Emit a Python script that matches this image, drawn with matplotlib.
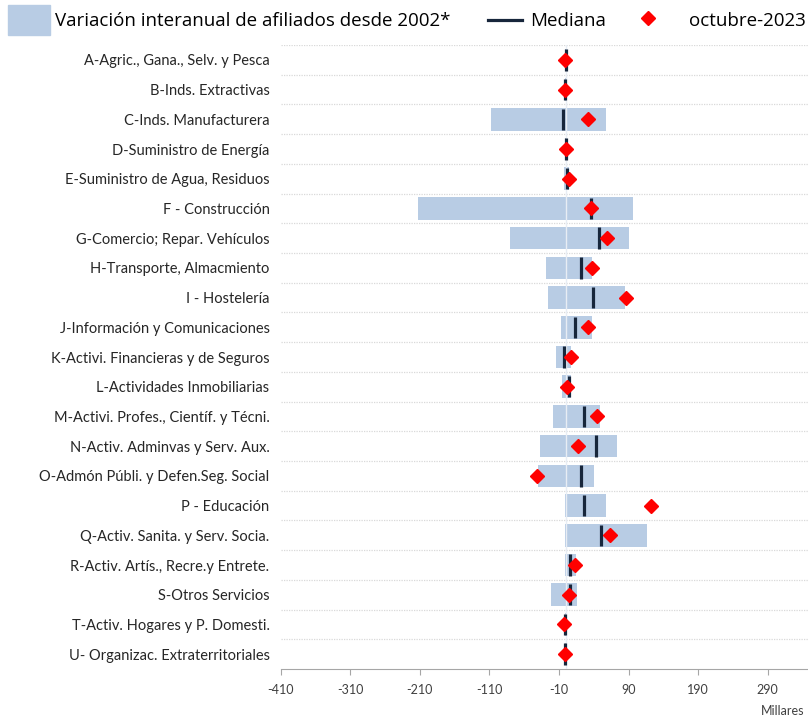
import numpy as np
import matplotlib
matplotlib.use('Agg')
from matplotlib import pyplot as plt
from matplotlib.patches import Rectangle
from matplotlib.lines import Line2D

# ramas de actividad
ramas = ["A-Agric., Gana., Selv. y Pesca",
         "B-Inds. Extractivas",
         "C-Inds. Manufacturera",
         "D-Suministro de Energía",
         "E-Suministro de Agua, Residuos",
         "F - Construcción",
         "G-Comercio; Repar. Vehículos",
         "H-Transporte, Almacmiento",
         "I - Hostelería",
         "J-Información y Comunicaciones",
         "K-Activi. Financieras y de Seguros",
         "L-Actividades Inmobiliarias",
         "M-Activi. Profes., Científ. y Técni.",
         "N-Activ. Adminvas y Serv. Aux.",
         "O-Admón Públi. y Defen.Seg. Social",
         "P - Educación",
         "Q-Activ. Sanita. y Serv. Socia.",
         "R-Activ. Artís., Recre.y Entrete.",
         "S-Otros Servicios",
         "T-Activ. Hogares y P. Domesti.",
         "U- Organizac. Extraterritoriales"]

# variacion interanual desde 2002 (miles): minimo y maximo
minimo = [-2, -2, -107, -2, -3, -212, -80, -29, -26, -7, -14, -6,
          -19, -37, -40, -1, -1, -1, -22, -2, -1.5]
maximo = [1.5, 1, 58, 1, 5, 97, 90, 37, 85, 38, 8, 7,
          49, 73, 41, 57, 117, 14, 16, 0, 0.5]
mediana = [0, -1, -4, -0.5, 2, 36, 48, 22, 39, 13, -2.5, 4,
           26, 43, 22, 26, 50, 6, 6, -1, -1]
oct2023 = [-1, -1, 32, 0, 4, 36, 59, 38, 86, 32, 7.5, 2,
           45, 18, -42, 123, 64, 13, 5, -2.5, -1]

xticks = [-410, -310, -210, -110, -10, 90, 190, 290]

plt.rcParams['font.family'] = ['Lato', 'DejaVu Sans']

azul = '#b8cce4'
marino = '#17263b'
rojo = '#ff0000'

fig = plt.figure(figsize=(8.08, 7.25), dpi=100)
ax = fig.add_axes([0.3474, 0.0772, 1 - 0.3474, 0.9379 - 0.0772])

y = np.arange(len(ramas))
ancho = np.array(maximo) - np.array(minimo)
ax.barh(y, ancho, left=minimo, height=0.76, color=azul, zorder=2)
ax.axvline(0, color='#e8edf4', lw=1, zorder=3)
ax.vlines(mediana, y - 0.36, y + 0.36, color=marino, lw=2.3, zorder=4)
ax.plot(oct2023, y, 'D', color=rojo, ms=7.5, zorder=5, lw=0)

# lineas de separacion punteadas
for b in np.arange(-0.5, len(ramas) - 1, 1.0):
    ax.axhline(b, color='#d9d9d9', lw=0.9, ls=(0, (1, 1)), zorder=1)

ax.set_ylim(len(ramas) - 0.5, -0.5)
ax.set_xlim(-410, 348)
ax.set_yticks(y)
ax.set_yticklabels(ramas, fontsize=10.5, color='#262626')
ax.tick_params(axis='y', length=0, pad=8)
ax.set_xticks(xticks)
ax.set_xticklabels([str(t) for t in xticks], fontsize=9, color='#404040')
ax.tick_params(axis='x', length=4, direction='out', color='#a6a6a6', pad=7)
for s in ['top', 'right', 'left']:
    ax.spines[s].set_visible(False)
ax.spines['bottom'].set_color('#a6a6a6')

# leyenda superior
ley = ['Open Sans', 'DejaVu Sans']
fig.patches.append(Rectangle((0.0099, 0.9517), 0.052, 0.0414, transform=fig.transFigure,
                             color=azul, zorder=1))
fig.text(0.068, 0.971, "Variación interanual de afiliados desde 2002*", fontsize=13.5,
         va='center', ha='left', color='black', family=ley)
fig.lines.append(Line2D([0.604, 0.646], [0.973, 0.973], transform=fig.transFigure,
                        color=marino, lw=2.3))
fig.text(0.656, 0.971, "Mediana", fontsize=13.5, va='center', ha='left', family=ley)
fig.lines.append(Line2D([0.802], [0.975], transform=fig.transFigure, marker='D',
                        color=rojo, ms=7.5, lw=0))
fig.text(0.997, 0.971, "octubre-2023", fontsize=13.5, va='center', ha='right', family=ley)
fig.text(0.996, 0.011, "Millares", fontsize=9, ha='right', va='bottom', color='#404040')

fig.savefig('out.png', dpi=100)
